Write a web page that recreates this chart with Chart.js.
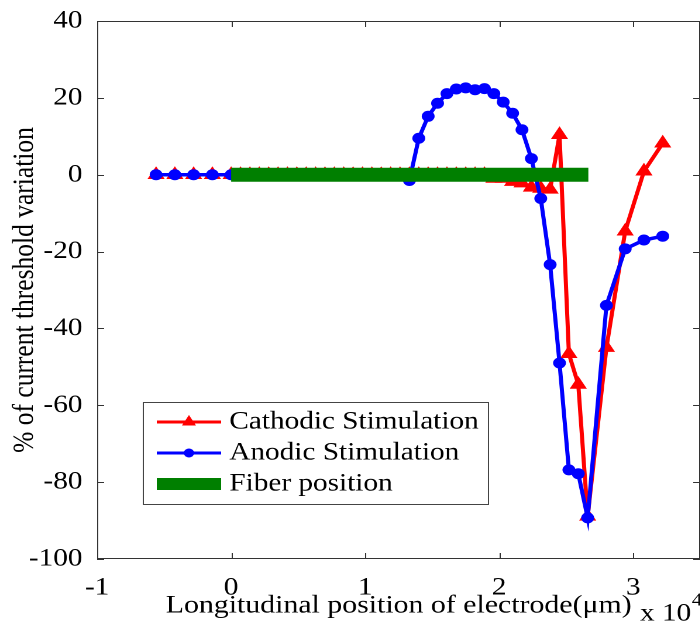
<!DOCTYPE html>
<html>
<head>
<meta charset="utf-8">
<script src="https://cdn.jsdelivr.net/npm/chart.js@4"></script>
<style>
  html, body { margin: 0; padding: 0; background: #fff; overflow: hidden; }
  #wrap { width: 700px; height: 621px; overflow: hidden; position: relative; }
  /* the source figure is stretched sideways, so is this one */
  #chart { transform: scaleX(1.17); transform-origin: 0 0; }
</style>
</head>
<body>
<div id="wrap"><canvas id="chart" width="607" height="621"></canvas></div>
<script>
// positions in units of 10^4 um
const xPos = [-0.56, -0.42, -0.28, -0.14,
  0, 0.07, 0.14, 0.21, 0.28, 0.35, 0.42, 0.49, 0.56, 0.63, 0.70, 0.77, 0.84, 0.91, 0.98,
  1.05, 1.12, 1.19, 1.26, 1.33, 1.40, 1.47, 1.54, 1.61, 1.68, 1.75, 1.82, 1.89, 1.96,
  2.03, 2.10, 2.17, 2.24, 2.31, 2.38, 2.45, 2.52, 2.59, 2.66,
  2.80, 2.94, 3.08, 3.22];

const cathodic = [0, 0, 0, 0,
  0, 0, 0, 0, 0, 0, 0, 0, 0, 0, 0, 0, 0, 0, 0,
  0, 0, 0, 0, 0, 0, 0, 0, 0, 0, 0, 0, 0, -1.0,
  -1.0, -1.8, -2.2, -3.3, -3.6, -3.8, 10.4, -46.6, -54.6, -88.9,
  -45, -14.7, 0.9, 8.2];

const anodic = [0, 0, 0, 0,
  0, 0, 0, 0, 0, 0, 0, 0, 0, 0, 0, 0, 0, 0, 0,
  0, 0, 0, 0, -1.5, 9.5, 15.2, 18.6, 21.1, 22.3, 22.6, 22.1, 22.4, 21.1,
  18.9, 16.0, 11.7, 4.2, -6.2, -23.4, -49, -76.8, -77.8, -89.3,
  -34, -19.3, -17, -16];

const fiberX = [0, 2.665];
const fiberY = [0, 0];

const xTicks = [-1, 0, 1, 2, 3];
const yTicks = [40, 20, 0, -20, -40, -60, -80, -100];

const seriesNames = ['Cathodic Stimulation', 'Anodic Stimulation', 'Fiber position'];

const RED = '#ff0000', BLUE = '#0000ff', GREEN = '#007f00';
const FONT = "'Liberation Serif', 'Times New Roman', serif";

const pts = (xs, ys) => xs.map((x, i) => ({x: x, y: ys[i]}));

// box + inward ticks (matlab style), legend and the x10^4 note
const framePlugin = {
  id: 'frame',
  afterDatasetsDraw(chart) {
    const ctx = chart.ctx;
    const a = chart.chartArea;
    const sx = chart.scales.x, sy = chart.scales.y;
    ctx.save();
    ctx.strokeStyle = '#333';
    ctx.lineWidth = 1;
    ctx.strokeRect(a.left + 0.5, a.top + 0.5, a.right - a.left - 1, a.bottom - a.top - 1);
    ctx.beginPath();
    xTicks.forEach(v => {
      const px = Math.round(sx.getPixelForValue(v)) + 0.5;
      ctx.moveTo(px, a.bottom); ctx.lineTo(px, a.bottom - 6);
      ctx.moveTo(px, a.top); ctx.lineTo(px, a.top + 6);
    });
    yTicks.forEach(v => {
      const py = Math.round(sy.getPixelForValue(v)) + 0.5;
      ctx.moveTo(a.left, py); ctx.lineTo(a.left + 6, py);
      ctx.moveTo(a.right, py); ctx.lineTo(a.right - 6, py);
    });
    ctx.stroke();

    // legend
    const lx = 122, ly = 402, lw = 295, lh = 102;
    ctx.fillStyle = '#fff';
    ctx.fillRect(lx, ly, lw, lh);
    ctx.strokeStyle = '#444';
    ctx.strokeRect(lx + 0.5, ly + 0.5, lw, lh);
    const rows = [422, 453, 484];
    ctx.font = '25px ' + FONT;
    ctx.textBaseline = 'middle';
    ctx.textAlign = 'left';
    rows.forEach((ry, i) => {
      ctx.beginPath();
      if (i === 2) {
        ctx.strokeStyle = GREEN; ctx.lineWidth = 12;
      } else {
        ctx.strokeStyle = i === 0 ? RED : BLUE; ctx.lineWidth = 3;
      }
      ctx.moveTo(134, ry); ctx.lineTo(189, ry);
      ctx.stroke();
      if (i === 0) {
        ctx.fillStyle = RED;
        ctx.beginPath();
        ctx.moveTo(161.5, ry - 7); ctx.lineTo(167.5, ry + 3.5); ctx.lineTo(155.5, ry + 3.5);
        ctx.closePath(); ctx.fill();
      } else if (i === 1) {
        ctx.fillStyle = BLUE;
        ctx.beginPath(); ctx.arc(161.5, ry, 4.5, 0, Math.PI * 2); ctx.fill();
      }
      ctx.fillStyle = '#000';
      ctx.fillText(seriesNames[i], 196, ry);
    });

    // exponent note
    ctx.fillStyle = '#000';
    ctx.font = '25px ' + FONT;
    ctx.fillText('x 10', 547, 614);
    const w = ctx.measureText('x 10').width;
    ctx.font = '18px ' + FONT;
    ctx.fillText('4', 547 + w + 0.5, 601);
    ctx.restore();
  }
};

const ctx = document.getElementById('chart').getContext('2d');
new Chart(ctx, {
  type: 'line',
  data: {
    datasets: [
      {
        label: seriesNames[2],
        data: pts(fiberX, fiberY),
        borderColor: GREEN,
        borderWidth: 14,
        borderCapStyle: 'butt',
        pointRadius: 0
      },
      {
        label: seriesNames[1],
        data: pts(xPos, anodic),
        borderColor: BLUE,
        backgroundColor: BLUE,
        borderWidth: 3.5,
        pointStyle: 'circle',
        pointRadius: 5.5,
        pointBorderWidth: 0,
        tension: 0
      },
      {
        label: seriesNames[0],
        data: pts(xPos, cathodic),
        borderColor: RED,
        backgroundColor: RED,
        borderWidth: 3.5,
        pointStyle: 'triangle',
        pointRadius: 8.5,
        pointBorderWidth: 0,
        tension: 0
      }
    ]
  },
  options: {
    responsive: false,
    animation: false,
    devicePixelRatio: 2,
    layout: { padding: { top: 21, right: 1, left: 0, bottom: 0 } },
    plugins: { legend: { display: false }, tooltip: { enabled: false } },
    scales: {
      x: {
        type: 'linear',
        min: -1, max: 3.5,
        grid: { display: false },
        border: { display: false },
        ticks: {
          stepSize: 1, includeBounds: false, padding: 6,
          color: '#000', font: { family: FONT, size: 25 }, maxRotation: 0
        },
        title: {
          display: true, text: 'Longitudinal position of electrode(\u03bcm)',
          color: '#000', font: { family: FONT, size: 25.5 }, padding: { top: 0, bottom: 0 }
        },
        afterFit: s => { s.height = 62; s.paddingLeft = 0; s.paddingRight = 0; }
      },
      y: {
        min: -100, max: 40,
        grid: { display: false },
        border: { display: false },
        ticks: {
          stepSize: 20, padding: 4.5,
          color: '#000', font: { family: FONT, size: 25 }
        },
        title: {
          display: true, text: '% of current threshold variation',
          color: '#000', font: { family: FONT, size: 25.5 }, padding: { top: 6, bottom: 0 }
        },
        afterFit: s => { s.width = 83; s.paddingTop = 0; s.paddingBottom = 0; }
      }
    }
  },
  plugins: [framePlugin]
});
</script>
</body>
</html>
